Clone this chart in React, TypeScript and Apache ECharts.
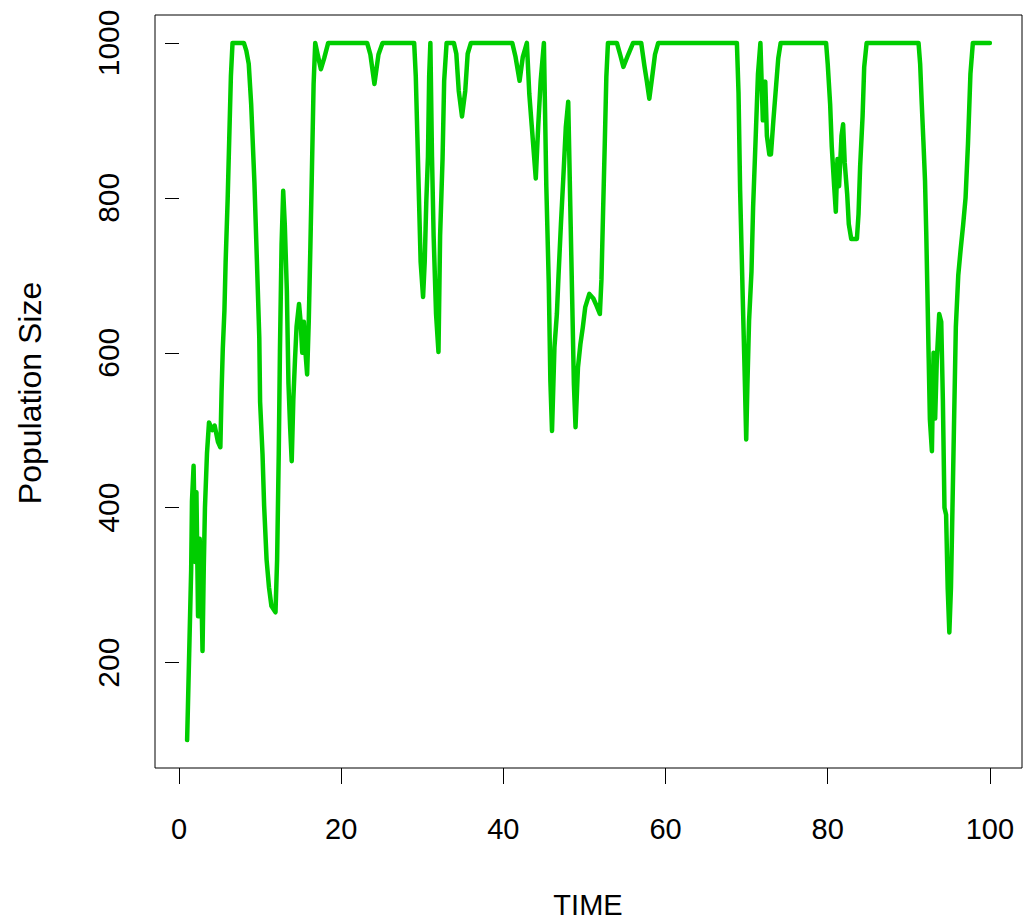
import React, { useEffect, useRef } from "react";
import * as echarts from "echarts";

const time = [
  1.0, 1.1, 1.3, 1.5, 1.6, 1.8, 2.0, 2.15, 2.35, 2.55, 2.75, 2.9, 3.05, 3.2, 3.45, 3.7, 4.1, 4.4, 4.8, 5.1,
  5.25, 5.4, 5.6, 5.75, 6.0, 6.2, 6.4, 6.6, 8.0, 8.3, 8.6, 8.9, 9.3, 9.6, 9.9, 10.0, 10.3, 10.5, 10.8, 11.1,
  11.4, 11.9, 12.1, 12.3, 12.45, 12.65, 12.85, 13.05, 13.3, 13.5, 13.7, 13.9, 14.1, 14.3, 14.5, 14.8, 15.0, 15.2, 15.4, 15.6,
  15.8, 16.0, 16.2, 16.4, 16.6, 16.8, 17.1, 17.5, 17.9, 18.4, 23.2, 23.6, 24.1, 24.6, 25.1, 29.0, 29.2, 29.4, 29.6, 29.8,
  30.1, 30.3, 30.5, 30.7, 30.85, 31.0, 31.2, 31.4, 31.7, 32.0, 32.2, 32.5, 32.7, 33.0, 33.9, 34.2, 34.5, 34.9, 35.3, 35.6,
  36.0, 41.1, 41.5, 42.0, 42.4, 42.9, 43.2, 43.5, 44.0, 44.3, 44.6, 45.0, 45.3, 45.6, 45.8, 46.0, 46.3, 46.6, 46.8, 47.1,
  47.4, 47.7, 48.0, 48.3, 48.5, 48.7, 48.9, 49.2, 49.5, 49.8, 50.1, 50.6, 51.1, 51.4, 51.9, 52.1, 52.3, 52.5, 52.7, 52.9,
  54.0, 54.4, 54.8, 55.4, 56.0, 57.0, 57.4, 57.7, 58.0, 58.4, 58.7, 59.1, 68.8, 69.0, 69.2, 69.5, 69.7, 69.8, 69.95, 70.1,
  70.3, 70.6, 70.8, 71.1, 71.4, 71.7, 72.0, 72.3, 72.5, 72.8, 73.0, 73.3, 73.6, 73.9, 74.2, 79.8, 80.0, 80.3, 80.5, 80.8,
  81.0, 81.2, 81.4, 81.7, 81.9, 82.1, 82.4, 82.6, 82.9, 83.6, 83.8, 84.0, 84.3, 84.5, 84.8, 91.2, 91.4, 91.6, 91.8, 92.0,
  92.15, 92.3, 92.45, 92.6, 92.85, 93.05, 93.25, 93.45, 93.75, 94.0, 94.2, 94.4, 94.6, 94.8, 95.0, 95.2, 95.4, 95.6, 95.8, 96.1,
  96.4, 96.7, 97.0, 97.3, 97.6, 97.9, 100.0,
];

const population = [
  100, 143, 232, 320, 409, 454, 330, 420, 260, 360, 300, 215, 320, 400, 470, 510, 500, 506, 485, 478,
  550, 605, 654, 717, 798, 878, 957, 1000, 1000, 990, 973, 921, 820, 721, 620, 537, 469, 402, 333, 297,
  273, 265, 333, 469, 605, 740, 809, 764, 680, 560, 505, 460, 540, 590, 634, 663, 640, 600, 640, 600,
  572, 640, 736, 840, 947, 1000, 985, 966, 980, 1000, 1000, 985, 947, 985, 1000, 1000, 957, 878, 796, 717,
  672, 717, 796, 853, 957, 1000, 853, 751, 650, 601, 751, 850, 951, 1000, 1000, 986, 938, 905, 938, 986,
  1000, 1000, 982, 951, 982, 1000, 934, 893, 825, 893, 951, 1000, 814, 689, 563, 499, 607, 650, 699, 766,
  827, 891, 924, 766, 663, 559, 504, 581, 611, 633, 659, 676, 670, 663, 650, 695, 783, 867, 956, 1000,
  1000, 985, 969, 985, 1000, 1000, 970, 950, 928, 960, 985, 1000, 1000, 936, 809, 680, 598, 555, 488, 560,
  641, 705, 788, 873, 960, 1000, 900, 950, 880, 856, 856, 900, 940, 980, 1000, 1000, 973, 921, 866, 814,
  782, 850, 815, 880, 895, 845, 805, 766, 747, 747, 779, 841, 905, 969, 1000, 1000, 973, 921, 873, 822,
  756, 676, 594, 514, 473, 600, 515, 590, 650, 640, 540, 400, 391, 295, 239, 297, 408, 521, 633, 700,
  734, 765, 800, 870, 960, 1000, 1000,
];

const xTicks = [0, 20, 40, 60, 80, 100];
const yTicks = [200, 400, 600, 800, 1000];
const xTitle = "TIME";
const yTitle = "Population Size";

const FONT = "'Liberation Sans', Arial, sans-serif";

export default function App() {
  const ref = useRef<HTMLDivElement>(null);
  useEffect(() => {
    if (!ref.current) return;
    const chart = echarts.init(ref.current, undefined, { renderer: "svg" });
    const data = time.map((t, i) => [t, population[i]]);
    chart.setOption({
      animation: false,
      backgroundColor: "#ffffff",
      grid: {
        left: 155,
        top: 15,
        right: 3,
        bottom: 156,
        show: true,
        borderColor: "#000000",
        borderWidth: 1,
        backgroundColor: "transparent",
      },
      xAxis: {
        type: "value",
        min: -2.96,
        max: 103.96,
        axisLine: { show: false },
        splitLine: { show: false },
        axisTick: {
          show: true,
          length: 16,
          inside: false,
          customValues: xTicks,
          lineStyle: { color: "#000000", width: 1 },
        },
        axisLabel: {
          customValues: xTicks,
          fontSize: 29,
          fontFamily: FONT,
          color: "#000000",
          margin: 46,
          formatter: (v: number) => String(v),
        },
      },
      yAxis: {
        type: "value",
        min: 64,
        max: 1036,
        axisLine: { show: false },
        splitLine: { show: false },
        axisTick: {
          show: true,
          length: 14,
          inside: false,
          customValues: yTicks,
          lineStyle: { color: "#000000", width: 1 },
        },
        axisLabel: {
          customValues: yTicks,
          rotate: 90,
          fontSize: 30,
          fontFamily: FONT,
          color: "#000000",
          margin: 32,
          formatter: (v: number) => String(v),
        },
      },
      graphic: [
        {
          type: "text",
          x: 588,
          y: 905,
          style: {
            text: xTitle,
            fontSize: 29,
            fontFamily: FONT,
            fill: "#000000",
            align: "center",
            verticalAlign: "middle",
          },
        },
        {
          type: "text",
          x: 30,
          y: 393,
          rotation: Math.PI / 2,
          style: {
            text: yTitle,
            fontSize: 32,
            fontFamily: FONT,
            fill: "#000000",
            align: "center",
            verticalAlign: "middle",
          },
        },
      ],
      series: [
        {
          type: "line",
          data,
          showSymbol: false,
          symbol: "none",
          lineStyle: { color: "#00CD00", width: 4.5, cap: "round", join: "round" },
          silent: true,
        },
      ],
    });
    return () => chart.dispose();
  }, []);
  return (
    <div
      ref={ref}
      style={{ position: "fixed", left: 0, top: 0, width: 1025, height: 924, background: "#fff" }}
    />
  );
}
